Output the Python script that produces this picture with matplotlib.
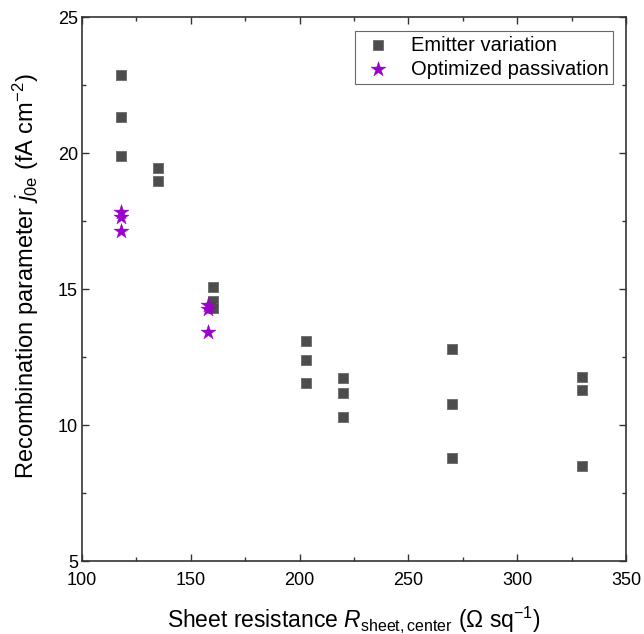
import numpy as np
import matplotlib
matplotlib.use('Agg')
import matplotlib.pyplot as plt
from matplotlib.ticker import MultipleLocator

plt.rcParams['font.family'] = ['Liberation Sans', 'DejaVu Sans']
plt.rcParams['mathtext.fontset'] = 'custom'
plt.rcParams['mathtext.rm'] = 'Liberation Sans'
plt.rcParams['mathtext.it'] = 'Liberation Sans:italic'

# ── Data ────────────────────────────────────────────────────
emitter_r   = [118, 118, 118, 135, 135, 160, 160, 160,
               203, 203, 203, 220, 220, 220, 270, 270, 270, 330, 330, 330]
emitter_j0e = [22.88, 21.31, 19.90, 19.46, 18.96, 15.09, 14.57, 14.29,
               13.10, 12.38, 11.55, 11.74, 11.17, 10.30, 12.78, 10.78, 8.78,
               11.78, 11.29, 8.50]

passiv_r   = [118, 118, 118, 158, 158, 158]
passiv_j0e = [17.84, 17.66, 17.14, 14.41, 14.25, 13.43]

SQ_C   = '#4d4d4d'
STAR_C = '#9900cc'
AX_C   = '#333333'

fig = plt.figure(figsize=(6.44, 6.34), dpi=100)
ax = fig.add_axes([0.1273, 0.1151, 0.8447, 0.858])

ax.scatter(emitter_r, emitter_j0e, marker='s', s=62, color=SQ_C,
           edgecolors='#6a6a6a', linewidths=0.6, label='Emitter variation', zorder=3)
ax.scatter(passiv_r, passiv_j0e, marker='*', s=130, color=STAR_C,
           edgecolors=STAR_C, linewidths=0.3, label='Optimized passivation', zorder=4)

ax.set_xlim(100, 350)
ax.set_ylim(5, 25)
ax.xaxis.set_major_locator(MultipleLocator(50))
ax.xaxis.set_minor_locator(MultipleLocator(25))
ax.yaxis.set_major_locator(MultipleLocator(5))
ax.yaxis.set_minor_locator(MultipleLocator(2.5))
ax.tick_params(which='both', direction='in', top=True, right=True,
               color=AX_C, width=1.0, labelsize=13)
ax.tick_params(axis='x', pad=8)
ax.tick_params(axis='y', pad=3)
ax.tick_params(which='major', length=5)
ax.tick_params(which='minor', length=3)
for spine in ax.spines.values():
    spine.set_edgecolor(AX_C)
    spine.set_linewidth(1.2)

ax.set_xlabel(r'Sheet resistance $R_{\mathrm{sheet,center}}$ ($\Omega$ sq$^{-1}$)',
              fontsize=16.5, labelpad=11)
ax.set_ylabel(r'Recombination parameter $j_{\mathrm{0e}}$ (fA cm$^{-2}$)',
              fontsize=17, labelpad=12)
ax.yaxis.label.set_y(0.523)

leg = ax.legend(loc='upper right', bbox_to_anchor=(0.977, 0.975), fontsize=14.5,
                frameon=True, fancybox=False, edgecolor='#444444',
                handletextpad=0.7, borderpad=0.25, labelspacing=0.25,
                handlelength=1.8, scatterpoints=1, borderaxespad=0)
leg.get_frame().set_linewidth(0.8)

fig.savefig('out.png', dpi=100)
